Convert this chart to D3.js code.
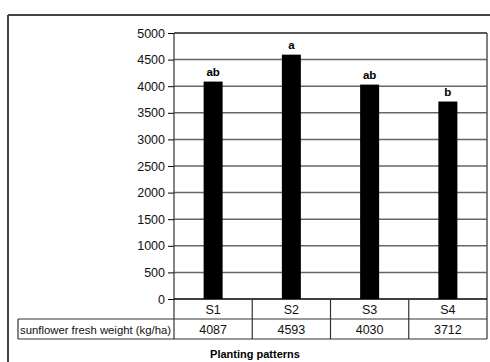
<!DOCTYPE html>
<html><head><meta charset="utf-8">
<script src="https://cdn.jsdelivr.net/npm/d3@7"></script>
<style>body{margin:0;background:#fff}svg{display:block}text{font-family:"Liberation Sans",Arial,sans-serif}</style>
</head><body><div id="c"></div>
<script>
const categories = ["S1","S2","S3","S4"];
const values = [4087,4593,4030,3712];
const letters = ["ab","a","ab","b"];
const yTicks = [0,500,1000,1500,2000,2500,3000,3500,4000,4500,5000];
const rowLabel = "sunflower fresh weight (kg/ha)";
const xTitle = "Planting patterns";

const W=490,H=362;
const svg=d3.select("#c").append("svg").attr("width",W).attr("height",H);
const L=174,R=487,T=33,B=299;
const x=d3.scaleBand().domain(categories).range([L,R]);
const y=d3.scaleLinear().domain([0,5000]).range([B,T]);

// outer frame
svg.append("line").attr("x1",8).attr("x2",W).attr("y1",15).attr("y2",15).attr("stroke","#444").attr("stroke-width",2);
svg.append("line").attr("x1",8).attr("x2",8).attr("y1",15).attr("y2",H).attr("stroke","#444").attr("stroke-width",2);

// gridlines
svg.append("g").selectAll("line").data(yTicks.filter(d=>d>0)).join("line")
 .attr("x1",L).attr("x2",R).attr("y1",d=>y(d)).attr("y2",d=>y(d))
 .attr("stroke",d=>d===5000?"#222":"#666").attr("stroke-width",1.5);
// right border
svg.append("line").attr("x1",R).attr("x2",R).attr("y1",T).attr("y2",B).attr("stroke","#555").attr("stroke-width",1.5);

// bars
const bw=19;
svg.append("g").selectAll("rect").data(values).join("rect")
 .attr("x",(d,i)=>x(categories[i])+x.bandwidth()/2-bw/2).attr("width",bw)
 .attr("y",d=>y(d)).attr("height",d=>B-y(d)).attr("fill","#000");
svg.append("g").selectAll("text").data(values).join("text")
 .attr("x",(d,i)=>x(categories[i])+x.bandwidth()/2).attr("y",d=>y(d)-6)
 .attr("text-anchor","middle").attr("font-size",11.5).attr("font-weight","bold").text((d,i)=>letters[i]);

// y axis
const ya=svg.append("g").attr("transform",`translate(${L},0)`).call(d3.axisLeft(y).tickValues(yTicks).tickSize(6).tickPadding(3).tickFormat(d3.format("d")));
ya.select(".domain").remove();
ya.selectAll("line").attr("stroke","#000");
ya.selectAll("text").attr("font-size",12.5).attr("font-family","Liberation Sans, Arial, sans-serif").attr("fill","#111");

// table
const r1=B, r2=319, r3=339;
const tg=svg.append("g").attr("stroke","#333").attr("stroke-width",1.2);
tg.append("line").attr("x1",L).attr("x2",L).attr("y1",T).attr("y2",r3);
tg.append("line").attr("x1",L).attr("x2",R).attr("y1",B).attr("y2",B).attr("stroke","#000").attr("stroke-width",1.5);
tg.append("line").attr("x1",18).attr("x2",R).attr("y1",r2).attr("y2",r2);
tg.append("line").attr("x1",18).attr("x2",R).attr("y1",r3).attr("y2",r3);
tg.append("line").attr("x1",18).attr("x2",18).attr("y1",r2).attr("y2",r3);
tg.selectAll(".v").data(categories).join("line").attr("class","v")
 .attr("x1",d=>x(d)+x.bandwidth()).attr("x2",d=>x(d)+x.bandwidth()).attr("y1",B).attr("y2",r3);
svg.append("g").selectAll("text").data(categories).join("text")
 .attr("x",d=>x(d)+x.bandwidth()/2).attr("y",r2-5).attr("text-anchor","middle").attr("font-size",12.5).attr("fill","#111").text(d=>d);
svg.append("g").selectAll("text").data(values).join("text")
 .attr("x",(d,i)=>x(categories[i])+x.bandwidth()/2).attr("y",r3-5).attr("text-anchor","middle").attr("font-size",12.5).attr("fill","#111").text(d=>d);
svg.append("text").attr("x",20).attr("y",r3-5).attr("font-size",11.8).attr("fill","#111")
 .attr("textLength",151).attr("lengthAdjust","spacingAndGlyphs").text(rowLabel);
svg.append("text").attr("x",255).attr("y",358).attr("text-anchor","middle").attr("font-size",11).attr("font-weight","bold").text(xTitle);
</script></body></html>
